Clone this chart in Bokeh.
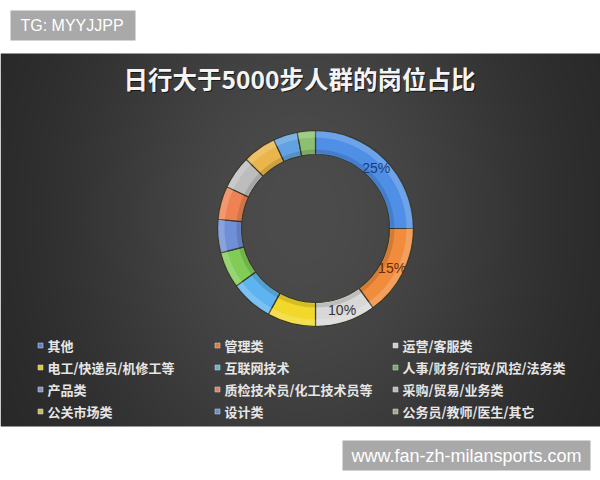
import numpy as np
from bokeh.plotting import figure
from bokeh.models import Range1d, ColumnDataSource
from bokeh.core.properties import value
from bokeh.embed import file_html
from bokeh.resources import INLINE

# ---------------- data ----------------
title_text = "日行大于5000步人群的岗位占比"
categories = ["其他", "管理类", "运营/客服类",
              "电工/快递员/机修工等", "互联网技术", "人事/财务/行政/风控/法务类",
              "产品类", "质检技术员/化工技术员等", "采购/贸易/业务类",
              "公关市场类", "设计类", "公务员/教师/医生/其它"]
shares = [25, 15, 10, 8, 7, 6, 5.5, 5.5, 5.5, 5.5, 4, 3]
pct_labels = ["25%", "15%", "10%", "", "", "", "", "", "", "", "", ""]
seg_colors = ["#4f8fe6", "#f08c3c", "#d8d8d8", "#f2d82a", "#5eb4ee", "#80cc56",
              "#6f8fd6", "#ee8252", "#bdbdbd", "#eab54a", "#62a2e2", "#8cc070"]
legend_colors = ["#5b7fd0", "#e07a30", "#cfcfcf", "#d8d020", "#60b0d8", "#70b050",
                 "#8090c0", "#e08060", "#bbbbbb", "#c8b860", "#6090d0", "#a0a890"]
label_colors = ["#1c3c78", "#6a2a00", "#333333"] + ["#333333"] * 9
tg_text = "TG: MYYJJPP"
wm_text = "www.fan-zh-milansports.com"

# ---------------- helpers ----------------
def Y(ry):
    return 480 - ry

CJK = value("Noto Sans CJK SC")
LAT = value("Liberation Sans")

p = figure(width=600, height=480, output_backend="svg", toolbar_location=None,
           x_range=Range1d(0, 600), y_range=Range1d(0, 480),
           x_axis_location=None, y_axis_location=None, min_border=0)
p.grid.visible = False
p.outline_line_color = None
p.background_fill_color = "white"
p.border_fill_color = "white"

# panel background gradient
top, bot = 53, 426
nx, ny = 300, 187
xs = np.linspace(0, 600, nx)
ys_ref = np.linspace(bot, top, ny)  # row 0 = bottom
XX, YY = np.meshgrid(xs, ys_ref)
v = 0x23 + (0x4c - 0x23) * np.exp(-((XX - 300) / 240.0) ** 2 - ((YY - 215) / 320.0) ** 2)
img = np.empty((ny, nx), dtype=np.uint32)
view = img.view(dtype=np.uint8).reshape((ny, nx, 4))
view[..., 0] = v.astype(np.uint8)
view[..., 1] = v.astype(np.uint8)
view[..., 2] = v.astype(np.uint8)
view[..., 3] = 255
p.image_rgba(image=[img], x=0, y=Y(bot), dw=600, dh=bot - top)

# title
p.text(x=[300], y=[Y(79)], text=[title_text], text_font=CJK, text_font_size="24.5px",
       text_font_style="bold", text_color="black", text_alpha=0.6,
       text_align="center", text_baseline="middle")
p.text(x=[299], y=[Y(78)], text=[title_text], text_font=CJK, text_font_size="24.5px",
       text_font_style="bold", text_color="#f4f4f4",
       text_align="center", text_baseline="middle")

# donut
cx, cy = 315, Y(228)
r_in, r_out = 74, 98
frac = np.array(shares, dtype=float) / np.sum(shares)
cum = np.cumsum(frac)
start = np.pi / 2 - 2 * np.pi * (cum - frac)
end = np.pi / 2 - 2 * np.pi * cum
mid = (start + end) / 2
rm = (r_in + r_out) / 2
src = ColumnDataSource(dict(start=start, end=end, color=seg_colors,
                            lx=cx + rm * np.cos(mid), ly=cy + rm * np.sin(mid),
                            lab=pct_labels, lc=label_colors))
p.annular_wedge(x=cx, y=cy, inner_radius=r_in, outer_radius=r_out,
                start_angle="start", end_angle="end", direction="clock",
                fill_color="color", line_color="#3a3a2a", line_width=1.2, source=src)
# bevel highlights
p.annular_wedge(x=cx, y=cy, inner_radius=r_out - 7, outer_radius=r_out - 1,
                start_angle="start", end_angle="end", direction="clock",
                fill_color="white", fill_alpha=0.18, line_color=None, source=src)
p.annular_wedge(x=cx, y=cy, inner_radius=r_in + 1, outer_radius=r_in + 5,
                start_angle="start", end_angle="end", direction="clock",
                fill_color="black", fill_alpha=0.12, line_color=None, source=src)
p.text(x="lx", y="ly", text="lab", text_color="lc", text_font=LAT, text_font_size="14px",
       text_align="center", text_baseline="middle", source=src)

# legend (3 columns, row-major)
col_x = [40, 217, 395]
row_y = [345, 367, 389, 411]
idx = np.arange(len(categories))
lx = np.array([col_x[i % 3] for i in idx])
ly = np.array([Y(row_y[i // 3]) for i in idx])
lsrc = ColumnDataSource(dict(x=lx, y=ly, tx=lx + 7, name=categories, color=legend_colors))
p.rect(x="x", y="y", width=5, height=5, fill_color="color", line_color="#dddddd",
       line_width=0.5, source=lsrc)
p.text(x="tx", y="y", text="name", text_font=CJK, text_font_size="13px",
       text_font_style="bold", text_color="#e6e6e6",
       text_align="left", text_baseline="middle", source=lsrc)

# TG box
p.rect(x=[72.5], y=[Y(25)], width=125, height=30, fill_color="#a9a9a9", line_color=None)
p.text(x=[20], y=[Y(25)], text=[tg_text], text_font=LAT, text_font_size="16px",
       text_color="white", text_align="left", text_baseline="middle")

# watermark box
p.rect(x=[466], y=[Y(455)], width=248, height=30, fill_color="#a9a9a9", line_color=None)
p.text(x=[466], y=[Y(455)], text=[wm_text], text_font=LAT, text_font_size="18px",
       text_color="white", text_align="center", text_baseline="middle")

open("out.html", "w").write(file_html(p, INLINE))
